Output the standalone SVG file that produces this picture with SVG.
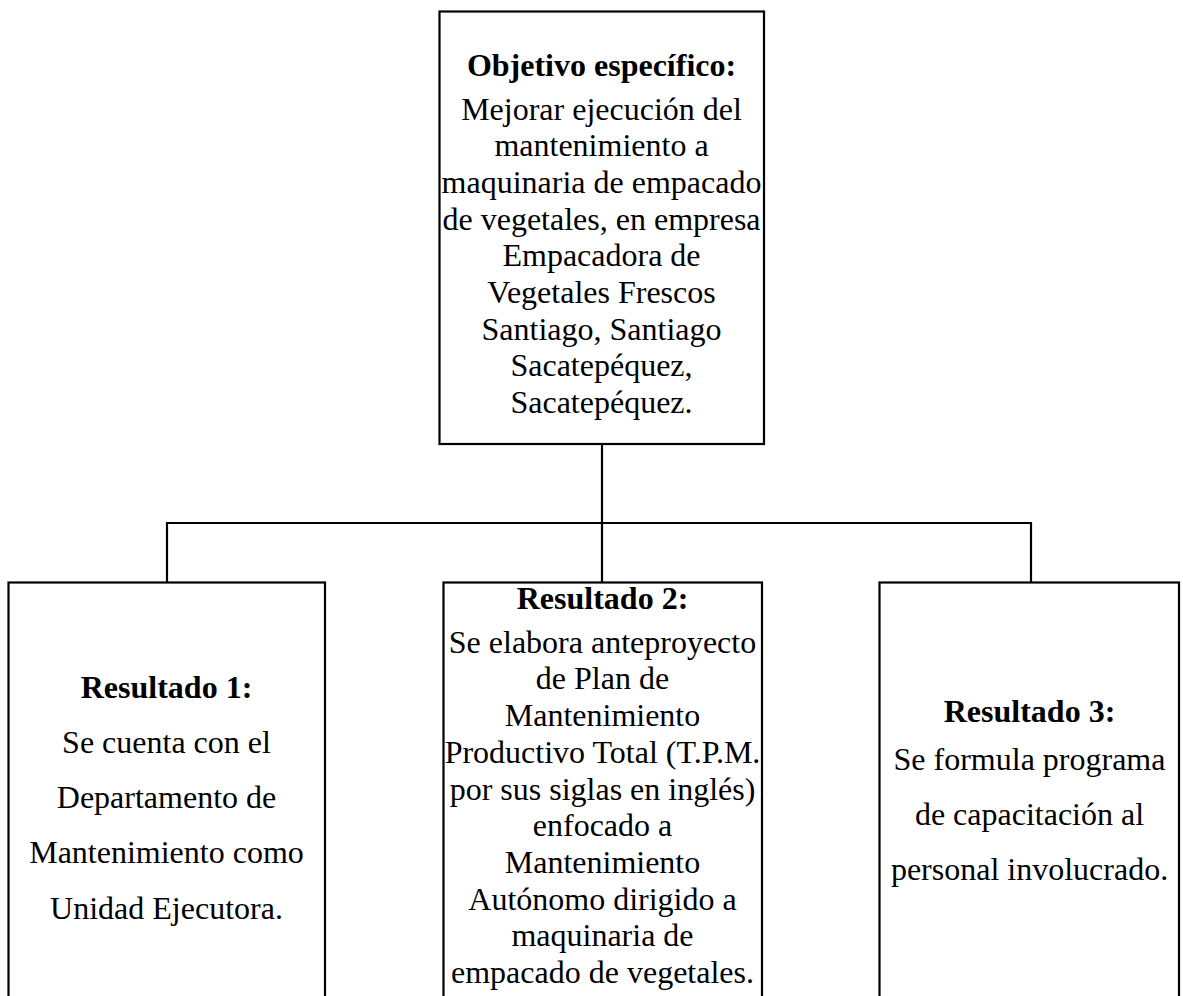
<svg xmlns="http://www.w3.org/2000/svg" width="1183" height="996" viewBox="0 0 1183 996">
<style>
.box{fill:#fff;stroke:#000;stroke-width:2.2}
.con{fill:none;stroke:#000;stroke-width:2.2}
text{font-family:"Liberation Serif","Times New Roman",serif;font-size:32px;fill:#000;text-anchor:middle}
.b{font-weight:bold}
</style>
<rect width="1183" height="996" fill="#fff"/>
<g id="connectors">
<path class="con" d="M602,444 V582"/>
<path class="con" d="M167,582 V523 H1031 V582"/>
</g>
<g id="objetivo">
<rect class="box" x="439.5" y="11.5" width="324.5" height="432.5"/>
<text class="b" x="601.5" y="76">Objetivo específico:</text>
<text x="601.5" y="119.5">Mejorar ejecución del</text>
<text x="601.5" y="156.2">mantenimiento a</text>
<text x="601.5" y="192.9">maquinaria de empacado</text>
<text x="601.5" y="229.6">de vegetales, en empresa</text>
<text x="601.5" y="266.3">Empacadora de</text>
<text x="601.5" y="303">Vegetales Frescos</text>
<text x="601.5" y="339.7">Santiago, Santiago</text>
<text x="601.5" y="376.4">Sacatepéquez,</text>
<text x="601.5" y="413.1">Sacatepéquez.</text>
</g>
<g id="resultado1">
<rect class="box" x="8.5" y="582.5" width="316.5" height="420"/>
<text class="b" x="166.5" y="697.7">Resultado 1:</text>
<text x="166.5" y="752.9">Se cuenta con el</text>
<text x="166.5" y="808.1">Departamento de</text>
<text x="166.5" y="863.3">Mantenimiento como</text>
<text x="166.5" y="918.5">Unidad Ejecutora.</text>
</g>
<g id="resultado2">
<rect class="box" x="443.5" y="582.5" width="318.5" height="420"/>
<text class="b" x="602.5" y="608.5">Resultado 2:</text>
<text x="602.5" y="652.7">Se elabora anteproyecto</text>
<text x="602.5" y="689.4">de Plan de</text>
<text x="602.5" y="726.1">Mantenimiento</text>
<text x="602.5" y="762.8">Productivo Total (T.P.M.</text>
<text x="602.5" y="799.5">por sus siglas en inglés)</text>
<text x="602.5" y="836.2">enfocado a</text>
<text x="602.5" y="872.9">Mantenimiento</text>
<text x="602.5" y="909.6">Autónomo dirigido a</text>
<text x="602.5" y="946.3">maquinaria de</text>
<text x="602.5" y="983">empacado de vegetales.</text>
</g>
<g id="resultado3">
<rect class="box" x="879.5" y="582.5" width="299.5" height="420"/>
<text class="b" x="1029.5" y="721.7">Resultado 3:</text>
<text x="1029.5" y="770">Se formula programa</text>
<text x="1029.5" y="825.2">de capacitación al</text>
<text x="1029.5" y="880.4">personal involucrado.</text>
</g>
</svg>
